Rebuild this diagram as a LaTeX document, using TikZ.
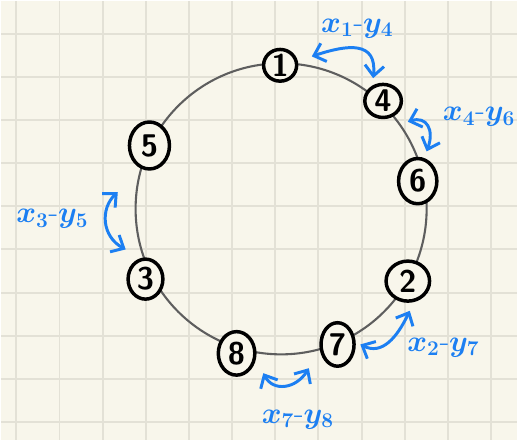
\documentclass[tikz,border=0pt]{standalone}
\usetikzlibrary{arrows.meta,shapes.geometric}
\definecolor{paper}{HTML}{F8F6EB}
\definecolor{gridline}{HTML}{E3E1D6}
\definecolor{ink}{HTML}{1C7FF2}
\definecolor{ring}{HTML}{5E5E5E}
\tikzset{
  vertex/.style 2 args={ellipse, draw=black, line width=2pt, fill=paper,
    minimum width=#1pt, minimum height=#2pt, inner sep=0pt,
    font=\fontsize{18}{20}\selectfont\sffamily\bfseries},
  swap/.style={ink, line width=1.7pt, line cap=round,
    {Straight Barb[length=6pt,width=11pt]}-{Straight Barb[length=6pt,width=11pt]}},
  swaplabel/.style={ink, font=\fontsize{18}{20}\selectfont\boldmath}
}
\begin{document}
\begin{tikzpicture}[x=0.02cm, y=-0.02cm]
    % papier
    \fill[paper] (0,0) rectangle (521,444);
    \foreach \k in {0,...,11} {
        \draw[gridline, line width=1.1pt] (15.5+43.6*\k,0) -- (15.5+43.6*\k,444);
    }
    \foreach \k in {0,...,9} {
        \draw[gridline, line width=1.1pt] (0,33+43.6*\k) -- (521,33+43.6*\k);
    }

    % lingkaran
    \draw[ring, line width=1.2pt] (283,210) circle (147);

    % simpul
    \node[vertex={19}{18}] (n1) at (282,65) {1};
    \node[vertex={21}{19}] (n4) at (386,101) {4};
    \node[vertex={22}{26}] (n6) at (421,182) {6};
    \node[vertex={25}{23}] (n2) at (411,283) {2};
    \node[vertex={19}{25}] (n7) at (340,347) {7};
    \node[vertex={21}{25}] (n8) at (238,356) {8};
    \node[vertex={20}{23}] (n3) at (146,281) {3};
    \node[vertex={23}{27}] (n5) at (150,146) {5};

    % ujung panah
    \coordinate (a14) at (314,56);  \coordinate (b14) at (376,78);
    \coordinate (a46) at (411,122); \coordinate (b46) at (430,152);
    \coordinate (a35) at (118,193); \coordinate (b35) at (126,251);
    \coordinate (a27) at (363,347); \coordinate (b27) at (413,313);
    \coordinate (a78) at (265,376); \coordinate (b78) at (311,371);

    % tukar
    \draw[swap] (a14) .. controls (350,44) and (380,40) .. (b14);
    \draw[swap] (a46) .. controls (430,116) and (438,130) .. (b46);
    \draw[swap] (a35) .. controls (100,210) and (102,238) .. (b35);
    \draw[swap] (a27) .. controls (385,358) and (400,340) .. (b27);
    \draw[swap] (a78) .. controls (275,395) and (298,392) .. (b78);

    % label
    \node[swaplabel] (l14) at (360,28) {$x_1$-$y_4$};
    \node[swaplabel] (l46) at (483,117) {$x_4$-$y_6$};
    \node[swaplabel] (l35) at (52,220) {$x_3$-$y_5$};
    \node[swaplabel] (l27) at (447,350) {$x_2$-$y_7$};
    \node[swaplabel] (l78) at (300,423) {$x_7$-$y_8$};
\end{tikzpicture}
\end{document}
